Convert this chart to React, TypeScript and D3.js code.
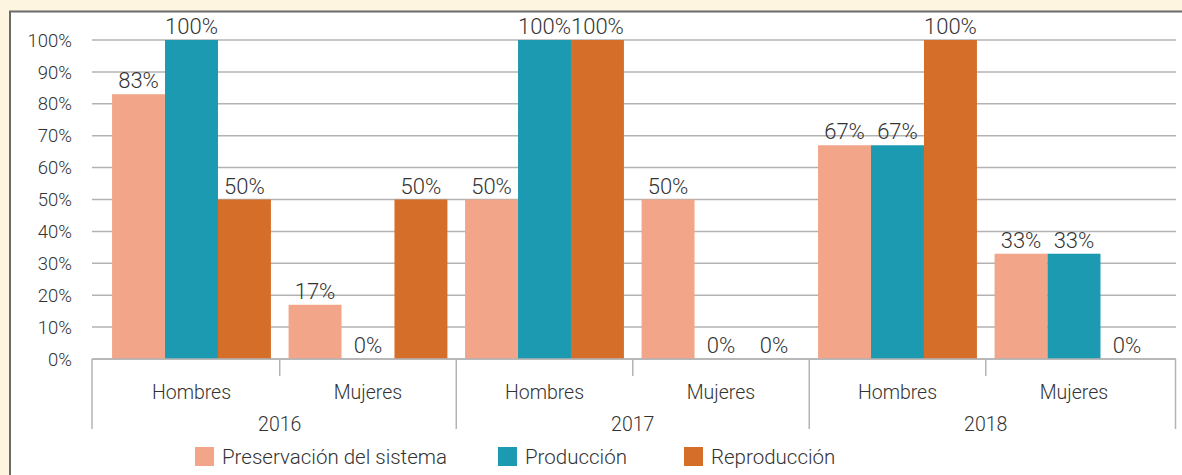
import React from "react";
import * as d3 from "d3";

const years = ["2016", "2017", "2018"];
const genders = ["Hombres", "Mujeres"];
const seriesNames = ["Preservación del sistema", "Producción", "Reproducción"];
const seriesColors = ["#F2A588", "#1C9AB1", "#D46E29"];
// values per category (year x gender) in order: 2016 H, 2016 M, 2017 H, 2017 M, 2018 H, 2018 M
const preservacion = [83, 17, 50, 50, 67, 33];
const produccion = [100, 0, 100, 0, 67, 33];
const reproduccion = [50, 50, 100, 0, 100, 0];
const yTicks = [0, 10, 20, 30, 40, 50, 60, 70, 80, 90, 100];

const W = 1182;
const H = 475;
const FONT = "Roboto, 'Noto Sans', sans-serif";
const TEXT = "#333333";
const WEIGHT = 300;

export default function App() {
  const series = [preservacion, produccion, reproduccion];
  const cats: string[] = [];
  years.forEach((y) => genders.forEach((g) => cats.push(y + "|" + g)));

  const axisLeft = 92;
  const axisRight = 1176;
  const bandLeft = 103.25;
  const bandRight = 1162.25;
  const y = d3.scaleLinear().domain([0, 100]).range([359, 40]);
  const x0 = d3.scaleBand<string>().domain(cats).range([bandLeft, bandRight]).paddingInner(0).paddingOuter(0);
  const inner = 0.05;
  const x1 = d3
    .scaleBand<number>()
    .domain([0, 1, 2])
    .range([x0.bandwidth() * inner, x0.bandwidth() * (1 - inner)])
    .padding(0);

  const yBase = y(0);
  const seps: { x: number; long: boolean }[] = [];
  cats.forEach((c, i) => {
    if (i > 0) seps.push({ x: x0(c)!, long: i % 2 === 0 });
  });

  const legendX = [195, 498, 684];

  return (
    <div style={{ position: "fixed", left: 0, top: 0, width: W, height: H }}>
      <svg width={W} height={H} style={{ display: "block" }}>
        <rect x={0} y={0} width={W} height={H} fill="#FDF5E0" />
        <rect x={10} y={11.5} width={W + 20} height={H + 20} fill="#FFFFFF" stroke="#6a6a6a" strokeWidth={2} />
        {yTicks.map((t) => (
          <g key={t}>
            <line x1={axisLeft} x2={axisRight} y1={y(t)} y2={y(t)} stroke="#B3B3B3" strokeWidth={1.5} />
            <text
              x={72}
              y={y(t)}
              dy="0.36em"
              textAnchor="end"
              fontFamily={FONT}
              fontWeight={WEIGHT}
              fontSize={18.5}
              fill={TEXT}
            >
              {t}%
            </text>
          </g>
        ))}
        {cats.map((c, ci) =>
          series.map((s, si) => {
            const v = s[ci];
            const bx = x0(c)! + x1(si)!;
            const bw = x1.bandwidth();
            return (
              <g key={c + si}>
                {v > 0 && (
                  <rect x={bx} y={y(v)} width={bw} height={yBase - y(v)} fill={seriesColors[si]} />
                )}
                <text
                  x={bx + bw / 2}
                  y={y(v) - 6}
                  textAnchor="middle"
                  fontFamily={FONT}
                  fontWeight={WEIGHT}
                  fontSize={22}
                  fill={TEXT}
                >
                  {v}%
                </text>
              </g>
            );
          })
        )}
        <line x1={axisLeft} x2={axisRight} y1={yBase} y2={yBase} stroke="#B3B3B3" strokeWidth={1.5} />
        <line x1={axisLeft} x2={axisLeft} y1={yBase} y2={429} stroke="#B3B3B3" strokeWidth={1.5} />
        <line x1={axisRight - 0.5} x2={axisRight - 0.5} y1={yBase} y2={429} stroke="#B3B3B3" strokeWidth={1.5} />
        {seps.map((s, i) => (
          <line key={i} x1={s.x} x2={s.x} y1={yBase} y2={s.long ? 429 : 376} stroke="#B3B3B3" strokeWidth={1.5} />
        ))}
        {cats.map((c) => (
          <text
            key={"g" + c}
            x={x0(c)! + x0.bandwidth() / 2}
            y={399}
            textAnchor="middle"
            fontFamily={FONT}
            fontWeight={WEIGHT}
            fontSize={19.5}
            fill={TEXT}
          >
            {c.split("|")[1]}
          </text>
        ))}
        {years.map((yr) => {
          const a = x0(yr + "|" + genders[0])!;
          const b = x0(yr + "|" + genders[1])! + x0.bandwidth();
          return (
            <text
              key={yr}
              x={(a + b) / 2}
              y={431}
              textAnchor="middle"
              fontFamily={FONT}
              fontWeight={WEIGHT}
              fontSize={19.5}
              fill={TEXT}
            >
              {yr}
            </text>
          );
        })}
        {seriesNames.map((n, i) => (
          <g key={n}>
            <rect x={legendX[i]} y={447} width={19} height={19} fill={seriesColors[i]} />
            <text x={legendX[i] + 27} y={463.5} fontFamily={FONT} fontWeight={WEIGHT} fontSize={20.5} fill={TEXT}>
              {n}
            </text>
          </g>
        ))}
      </svg>
    </div>
  );
}
